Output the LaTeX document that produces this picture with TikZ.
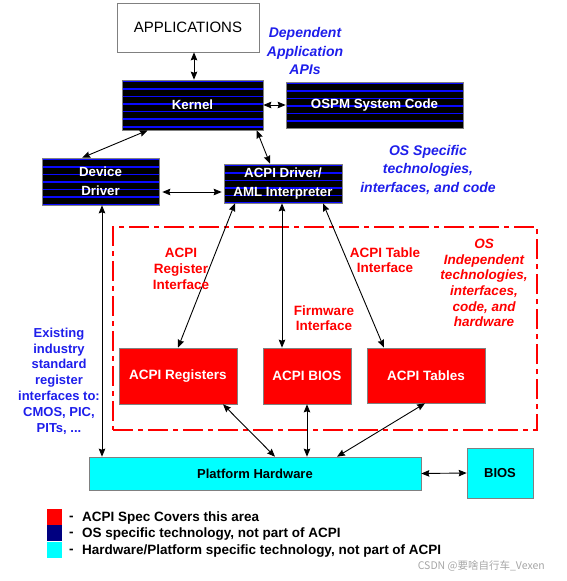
\documentclass[tikz,border=0pt]{standalone}
\usepackage{fontspec}
\setmainfont{Liberation Sans}
\newfontfamily\cjk{Noto Sans CJK SC}
\usetikzlibrary{arrows.meta,calc}
\definecolor{stripeblue}{RGB}{10,10,255}
\definecolor{txtblue}{RGB}{30,30,235}
\definecolor{acpired}{RGB}{255,0,0}
\definecolor{navyc}{RGB}{0,0,128}
\definecolor{hwcyan}{RGB}{0,255,255}
\tikzset{
  stripes/.style={path picture={
    \foreach \k in {0,...,8}{
      \draw[stripeblue, line width=1.7pt]
        ([yshift={-1.2pt-\k*7.6pt}]path picture bounding box.north west) --
        ([yshift={-1.2pt-\k*7.6pt}]path picture bounding box.north east);
    }}},
  arr/.style={{Stealth[length=8pt,width=6.5pt,inset=1pt]}-{Stealth[length=8pt,width=6.5pt,inset=1pt]}, line width=0.9pt},
  osbox/.style={draw=gray, line width=0.6pt, fill=black, text=white,
    font=\bfseries\fontsize{13.3}{19}\selectfont, align=center, inner sep=0pt, stripes},
  redbox/.style={draw=gray, line width=0.6pt, fill=acpired, text=white,
    font=\bfseries\fontsize{13.5}{16}\selectfont, inner sep=0pt},
  cyanbox/.style={draw=gray, line width=0.6pt, fill=hwcyan, text=black,
    font=\bfseries\fontsize{13}{16}\selectfont, inner sep=0pt},
  bluetxt/.style={text=txtblue, align=center, inner sep=0pt},
  redtxt/.style={text=acpired, align=center, inner sep=0pt},
  legtxt/.style={anchor=west, inner sep=0pt, font=\bfseries\fontsize{13.5}{16}\selectfont},
  legsq/.style={minimum width=15pt, minimum height=16pt, inner sep=0pt},
}
\begin{document}
\begin{tikzpicture}[x=1pt,y=-1pt]
\useasboundingbox (0,0) rectangle (566,581);

% OS independent region
\node[draw=acpired, line width=2.5pt, dash pattern=on 20pt off 5pt on 5pt off 5pt,
      minimum width=424pt, minimum height=203pt, inner sep=0pt] (osind) at (325,328.5) {};

% boxes
\node[draw=gray, line width=0.6pt, fill=white, minimum width=142pt, minimum height=49pt,
      font=\fontsize{15}{18}\selectfont, inner sep=0pt] (apps) at (188,27.5) {APPLICATIONS};
\node[osbox, minimum width=141pt, minimum height=50pt] (kernel) at (192.5,105) {Kernel};
\node[osbox, minimum width=177pt, minimum height=46pt] (ospm) at (374.5,105) {OSPM System Code};
\node[osbox, minimum width=117pt, minimum height=47pt] (dev) at (100.5,181.5) {Device\\Driver};
\node[osbox, minimum width=118pt, minimum height=39pt] (aml) at (283,183.5) {ACPI Driver/\\AML Interpreter};

\node[redbox, minimum width=118pt, minimum height=56pt] (regs) at (178,376) {ACPI Registers};
\node[redbox, minimum width=88pt, minimum height=56pt] (abios) at (307,376) {ACPI BIOS};
\node[redbox, minimum width=118pt, minimum height=55pt] (tables) at (426,375.5) {ACPI Tables};

\node[cyanbox, minimum width=332pt, minimum height=33pt] (plat) at (255,473.5) {Platform Hardware};
\node[cyanbox, minimum width=66pt, minimum height=50pt] (bios) at (500,473) {BIOS};

% connectors
\draw[arr] ([xshift=6pt]apps.south) -- ([xshift=1.5pt]kernel.north);
\draw[arr] (kernel.east) -- (ospm.west);
\draw[arr] ([xshift=26pt]kernel.south west) -- ([xshift=40.5pt]dev.north west);
\draw[arr] ([xshift=135pt]kernel.south west) -- ([xshift=-13pt]aml.north);
\draw[arr] ([yshift=-10.5pt,xshift=3pt]dev.east) -- ([yshift=-10.5pt,xshift=-2pt]dev.east -| aml.west);
\draw[arr] ([xshift=-48pt]aml.south) -- (regs.north);
\draw[arr] ([xshift=-1pt]aml.south) -- ([xshift=-1pt]aml.south |- abios.north);
\draw[arr] ([xshift=40pt]aml.south) -- ([xshift=-42pt]tables.north);
\draw[arr] ([xshift=1.5pt]dev.south) -- ([xshift=1.5pt]dev.south |- plat.north);
\draw[arr] ([xshift=45pt]regs.south) -- ([xshift=20pt]plat.north);
\draw[arr] (abios.south) -- (abios.south |- plat.north);
\draw[arr] ([xshift=-1pt]tables.south) -- ([xshift=82pt]plat.north);
\draw[arr] (plat.east) -- (bios.west);

% labels
\node[bluetxt, font=\bfseries\itshape\fontsize{14}{18.5}\selectfont] (deptxt) at (305,51) {Dependent\\Application\\APIs};
\node[bluetxt, font=\bfseries\itshape\fontsize{14}{18.5}\selectfont] (osspec) at (428,170) {OS Specific\\technologies,\\interfaces, and code};
\node[redtxt, font=\bfseries\fontsize{13.5}{16}\selectfont] (reginf) at (181,269) {ACPI\\Register\\Interface};
\node[redtxt, font=\bfseries\fontsize{13.5}{15.5}\selectfont] (tabinf) at (385,260) {ACPI Table\\Interface};
\node[redtxt, font=\bfseries\fontsize{13.5}{15.5}\selectfont] (fwinf) at (324,318) {Firmware\\Interface};
\node[redtxt, font=\bfseries\itshape\fontsize{13.5}{15.6}\selectfont] (osindtxt) at (484,283) {OS\\Independent\\technologies,\\interfaces,\\code, and\\hardware};
\node[bluetxt, font=\bfseries\fontsize{13}{15.8}\selectfont] (exist) at (59,381) {Existing\\industry\\standard\\register\\interfaces to:\\CMOS, PIC,\\PITs, ...};

% legend
\node[legsq, fill=acpired] (lr) at (54.5,516.5) {};
\node[legsq, fill=navyc] (ln) at (54.5,533) {};
\node[legsq, fill=hwcyan] (lc) at (54.5,549.5) {};
\node[legtxt] (ld1) at (69,518) {-};
\node[legtxt] (ld2) at (69,534.5) {-};
\node[legtxt] (ld3) at (69,551) {-};
\node[legtxt] (lt1) at (82,518) {ACPI Spec Covers this area};
\node[legtxt] (lt2) at (82,534.5) {OS specific technology, not part of ACPI};
\node[legtxt] (lt3) at (82,551) {Hardware/Platform specific technology, not part of ACPI};

% watermark
\node[anchor=east, inner sep=0pt, text=gray!70, font=\cjk\fontsize{10.5}{12}\selectfont] (wm) at (545,566) {CSDN @要啥自行车\_Vexen};
\end{tikzpicture}
\end{document}
